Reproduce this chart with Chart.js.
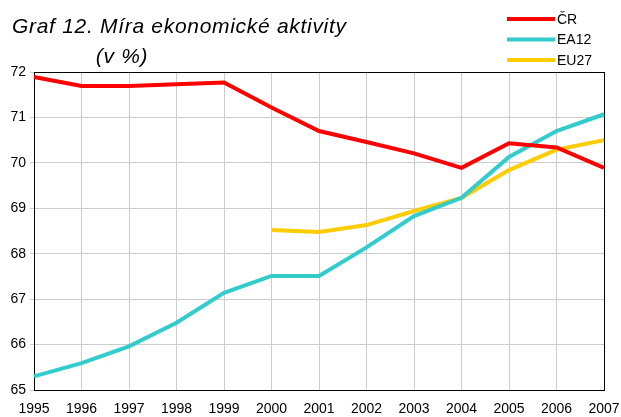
<!DOCTYPE html>
<html lang="cs">
<head>
<meta charset="UTF-8">
<title>Graf 12. Míra ekonomické aktivity</title>
<style>
  body { margin: 0; background: #fff; }
  #wrap { width: 621px; height: 417px; position: relative; }
</style>
</head>
<body>
<div id="wrap"><canvas id="chart" width="621" height="417"></canvas></div>
<script src="https://cdn.jsdelivr.net/npm/chart.js"></script>
<script>
// data
const years = ['1995', '1996', '1997', '1998', '1999', '2000', '2001', '2002', '2003', '2004', '2005', '2006', '2007'];
const cr   = [71.89, 71.69, 71.69, 71.73, 71.77, 71.22, 70.70, 70.46, 70.21, 69.89, 70.43, 70.34, 69.89];
const ea12 = [65.30, 65.59, 65.96, 66.48, 67.14, 67.51, 67.51, 68.14, 68.83, 69.23, 70.13, 70.70, 71.07];
const eu27 = [null, null, null, null, null, 68.52, 68.48, 68.63, 68.94, 69.23, 69.84, 70.29, 70.50];
const yTicks = [65, 66, 67, 68, 69, 70, 71, 72];

const titleText = 'Graf 12. Míra ekonomické aktivity';
const subText = '(v %)';

// title + legend + frame drawn on the canvas
const decor = {
    id: 'decor',
    beforeDatasetsDraw(chart) {
        const ctx = chart.ctx, a = chart.chartArea;
        ctx.save();
        ctx.strokeStyle = '#000';
        ctx.lineWidth = 1;
        ctx.strokeRect(Math.round(a.left) + 0.5, Math.round(a.top) + 0.5,
            Math.round(a.right - a.left), Math.round(a.bottom - a.top));
        ctx.restore();
    },
    afterDraw(chart) {
        const ctx = chart.ctx;
        ctx.save();
        ctx.fillStyle = '#000';
        ctx.textBaseline = 'alphabetic';
        ctx.font = 'italic 21px Arial, "Liberation Sans", sans-serif';
        ctx.letterSpacing = '0.7px';
        ctx.textAlign = 'left';
        ctx.fillText(titleText, 12, 33);
        ctx.textAlign = 'center';
        ctx.fillText(subText, 122, 63);
        ctx.letterSpacing = '0px';

        // legend
        ctx.font = '14px Arial, "Liberation Sans", sans-serif';
        ctx.textAlign = 'left';
        ctx.textBaseline = 'middle';
        chart.data.datasets.forEach((ds, i) => {
            const y = 19 + i * 20.5;
            ctx.strokeStyle = ds.borderColor;
            ctx.lineWidth = 4;
            ctx.beginPath();
            ctx.moveTo(507, y);
            ctx.lineTo(555, y);
            ctx.stroke();
            ctx.fillText(ds.label, 557, y + 1);
        });
        ctx.restore();
    }
};

new Chart(document.getElementById('chart'), {
    type: 'line',
    data: {
        labels: years,
        datasets: [
            { label: 'ČR', data: cr, borderColor: '#ff0000' },
            { label: 'EA12', data: ea12, borderColor: '#33cccc' },
            { label: 'EU27', data: eu27, borderColor: '#ffcc00' }
        ]
    },
    options: {
        responsive: false,
        animation: false,
        layout: { padding: { left: 0, top: 72, right: 17, bottom: 0 } },
        elements: {
            line: { borderWidth: 4, tension: 0, fill: false },
            point: { radius: 0 }
        },
        plugins: { legend: { display: false }, tooltip: { enabled: false } },
        scales: {
            x: {
                offset: false,
                afterFit(axis) {
                    axis.height = 27;
                    axis.paddingLeft = 0;
                    axis.paddingRight = 0;
                },
                grid: { color: '#cccccc', drawTicks: false },
                border: { color: '#000' },
                ticks: { color: '#000', font: { family: 'Arial', size: 14 }, maxRotation: 0, autoSkip: false, padding: 11 }
            },
            y: {
                min: 65,
                max: 72,
                afterFit(axis) {
                    axis.width = 34;
                    axis.paddingTop = 0;
                    axis.paddingBottom = 0;
                },
                afterBuildTicks(axis) { axis.ticks = yTicks.map(v => ({ value: v })); },
                grid: { color: '#cccccc', tickLength: 4, drawTicks: true },
                border: { color: '#000' },
                ticks: { color: '#000', font: { family: 'Arial', size: 14 }, padding: 4 }
            }
        }
    },
    plugins: [decor]
});
</script>
</body>
</html>
